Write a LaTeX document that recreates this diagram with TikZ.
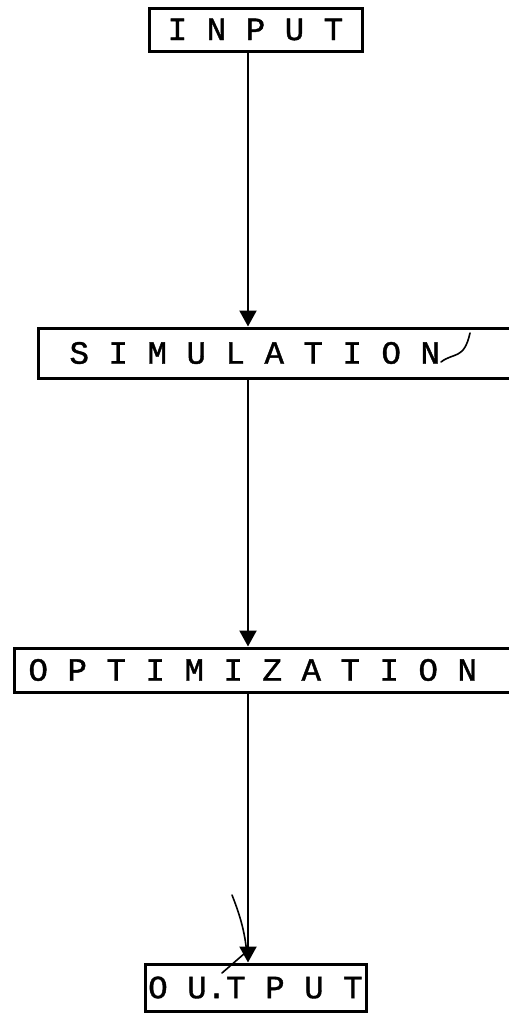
\documentclass[tikz,border=0pt]{standalone}
\usepackage{fontspec}
\setmonofont[FakeBold=1.2]{Liberation Mono}
\usetikzlibrary{arrows.meta}
\begin{document}
\begin{tikzpicture}[x=1pt,y=-1pt,
  box/.style={draw, line width=3pt, inner sep=0pt,
    font=\fontsize{32.5}{36}\selectfont\ttfamily},
  flow/.style={line width=2.2pt, -{Triangle[length=16pt,width=17pt]}},
  scribble/.style={line width=1.6pt, line cap=round}
]
\path[use as bounding box] (0,0) rectangle (509,1013);
\clip (0,0) rectangle (509,1013);
\fill[white] (0,0) rectangle (509,1013);
\coordinate (axis) at (248,0);

\node[box, minimum width=213pt, minimum height=43pt] (input) at (255.5,29.5) {I N P U T};
\node[box, anchor=west, inner xsep=31pt, minimum height=50pt] (sim) at (37,353)
  {\makebox[418pt][l]{S I M U L A T I O N}};
\node[box, anchor=west, inner xsep=14pt, minimum height=44pt] (opt) at (13,670)
  {\makebox[476pt][l]{O P T I M I Z A T I O N}};
\node[box, minimum width=221pt, minimum height=47pt] (output) at (255.5,987.5) {O U.T P U T};

\draw[flow] (input.south -| axis) -- (sim.north -| axis);
\draw[flow] (sim.south -| axis) -- (opt.north -| axis);
\draw[flow] (opt.south -| axis) -- (output.north -| axis);

% stray handwritten marks
\draw[scribble] (441,362) .. controls (454,352) and (464,360) .. (470,333);
\draw[scribble] (232,895) .. controls (240,915) and (246,935) .. (247,958);
\draw[scribble] (222,973) -- (245,953);
\end{tikzpicture}
\end{document}
